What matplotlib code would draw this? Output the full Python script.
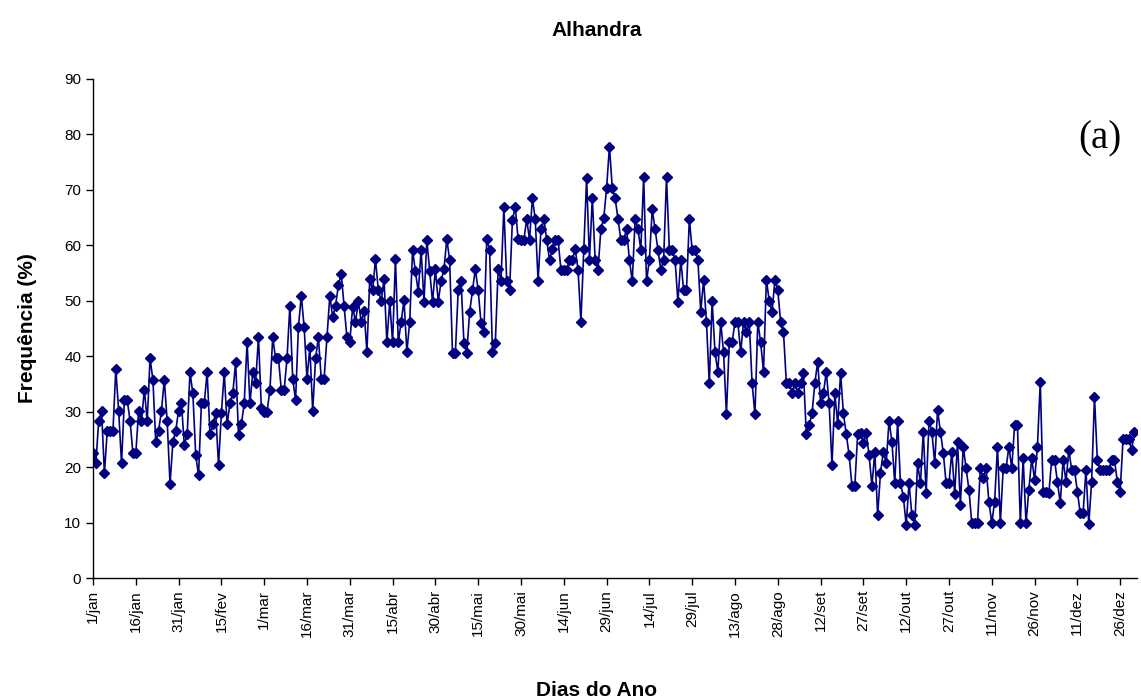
import numpy as np
import matplotlib
matplotlib.use("Agg")
import matplotlib.pyplot as plt

plt.rcParams['font.family'] = ['Liberation Sans', 'DejaVu Sans']

# tick labels (every 15 days, leap year)
tick_labels = ['1/jan', '16/jan', '31/jan', '15/fev', '1/mar', '16/mar', '31/mar',
               '15/abr', '30/abr', '15/mai', '30/mai', '14/jun', '29/jun', '14/jul',
               '29/jul', '13/ago', '28/ago', '12/set', '27/set', '12/out', '27/out',
               '11/nov', '26/nov', '11/dez', '26/dez']
tick_days = [1 + 15 * i for i in range(len(tick_labels))]

# frequency (%) per day of the year
frequencia = [
    22.6, 20.7, 28.3, 30.2, 18.9, 26.6, 26.6, 26.6, 37.7, 30.1,
    20.7, 32.1, 32.1, 28.3, 22.5, 22.5, 30.2, 28.3, 34.0, 28.3,
    39.6, 35.8, 24.5, 26.6, 30.2, 35.8, 28.3, 17.0, 24.5, 26.6,
    30.2, 31.6, 24.0, 25.9, 37.1, 33.3, 22.2, 18.5, 31.6, 31.6,
    37.1, 25.9, 27.7, 29.7, 20.4, 29.7, 37.1, 27.7, 31.5, 33.3,
    39.0, 25.8, 27.7, 31.5, 42.6, 31.5, 37.1, 35.2, 43.5, 30.7,
    30.0, 30.0, 33.9, 43.4, 39.6, 39.6, 33.9, 33.9, 39.6, 49.1,
    35.9, 32.1, 45.3, 50.9, 45.3, 35.9, 41.6, 30.1, 39.6, 43.4,
    35.9, 35.9, 43.4, 50.9, 47.1, 49.1, 52.8, 54.8, 49.1, 43.4,
    42.6, 48.9, 46.2, 49.9, 46.2, 48.2, 40.8, 53.9, 51.9, 57.5,
    51.9, 49.9, 53.9, 42.5, 49.9, 42.5, 57.5, 42.5, 46.2, 50.1,
    40.8, 46.2, 59.2, 55.3, 51.6, 59.2, 49.8, 61.0, 55.3, 49.8,
    55.7, 49.8, 53.6, 55.7, 61.1, 57.4, 40.6, 40.6, 51.9, 53.6,
    42.4, 40.6, 48.0, 51.9, 55.7, 51.9, 46.0, 44.4, 61.1, 59.2,
    40.8, 42.4, 55.7, 53.6, 66.9, 53.6, 51.9, 64.6, 66.9, 61.1,
    61.0, 61.0, 64.7, 61.0, 68.5, 64.7, 53.5, 62.9, 64.7, 61.0,
    57.4, 59.3, 61.0, 61.0, 55.6, 55.6, 55.6, 57.4, 57.4, 59.3,
    55.6, 46.2, 59.3, 72.1, 57.4, 68.5, 57.4, 55.6, 62.9, 64.9,
    70.3, 77.8, 70.3, 68.5, 64.7, 61.0, 61.0, 62.9, 57.4, 53.5,
    64.7, 62.9, 59.2, 72.3, 53.5, 57.4, 66.5, 62.9, 59.2, 55.6,
    57.4, 72.3, 59.2, 59.2, 57.4, 49.8, 57.4, 51.9, 51.9, 64.7,
    59.2, 59.2, 57.4, 48.0, 53.8, 46.2, 35.1, 50.0, 40.7, 37.2,
    46.2, 40.7, 29.5, 42.5, 42.5, 46.2, 46.2, 40.7, 46.2, 44.4,
    46.2, 35.1, 29.5, 46.2, 42.5, 37.2, 53.8, 50.0, 48.0, 53.8,
    51.9, 46.2, 44.4, 35.2, 35.2, 33.3, 35.2, 33.3, 35.2, 37.0,
    26.0, 27.6, 29.7, 35.2, 39.0, 31.5, 33.3, 37.2, 31.5, 20.4,
    33.3, 27.7, 37.0, 29.7, 26.0, 22.2, 16.6, 16.6, 26.0, 26.1,
    24.3, 26.1, 22.2, 16.6, 22.8, 11.4, 19.0, 22.8, 20.7, 28.4,
    24.6, 17.1, 28.4, 17.1, 14.7, 9.6, 17.1, 11.4, 9.6, 20.7,
    17.1, 26.4, 15.4, 28.4, 26.4, 20.7, 30.3, 26.4, 22.6, 17.1,
    17.1, 22.8, 15.2, 24.6, 13.2, 23.7, 19.8, 15.9, 9.9, 9.9,
    9.9, 19.8, 18.0, 19.8, 13.8, 9.9, 13.8, 23.7, 9.9, 19.8,
    19.8, 23.7, 19.8, 27.6, 27.6, 9.9, 21.6, 9.9, 15.9, 21.6,
    17.7, 23.7, 35.4, 15.6, 15.6, 15.3, 21.3, 21.3, 17.4, 13.5,
    21.3, 17.4, 23.1, 19.5, 19.5, 15.6, 11.7, 11.7, 19.5, 9.7,
    17.4, 32.7, 21.3, 19.5, 19.5, 19.5, 19.5, 21.3, 21.3, 17.4,
    15.6, 25.0, 25.0, 25.0, 23.1, 26.4,
]
dias = np.arange(1, len(frequencia) + 1)

fig = plt.figure(figsize=(11.41, 6.99), dpi=100)
ax = fig.add_axes([0.0815, 0.173, 0.915, 0.714])

ax.plot(dias, frequencia, color='#000080', linewidth=1.2,
        marker='D', markersize=5, markerfacecolor='#000080', markeredgecolor='#000080')

ax.set_xlim(1, 366.9)
ax.set_ylim(0, 90)
ax.set_yticks(range(0, 91, 10))
ax.set_xticks(tick_days)
ax.set_xticklabels(tick_labels, rotation=90, fontsize=11)
ax.tick_params(axis='y', labelsize=11, direction='out', length=5, width=1)
ax.tick_params(axis='x', direction='out', length=5, width=1)

for side in ['top', 'right']:
    ax.spines[side].set_visible(False)
for side in ['left', 'bottom']:
    ax.spines[side].set_color('black')
    ax.spines[side].set_linewidth(1)

fig.text(0.523, 0.957, 'Alhandra', ha='center', va='center', fontsize=15, fontweight='bold')
fig.text(0.523, 0.012, 'Dias do Ano', ha='center', va='center', fontsize=15, fontweight='bold')
fig.text(0.024, 0.53, 'Frequência (%)', ha='center', va='center', rotation=90,
         fontsize=15, fontweight='bold')
ax.text(0.985, 0.88, '(a)', transform=ax.transAxes, ha='right', va='center',
        fontsize=28, family=['Liberation Serif', 'DejaVu Serif'])

fig.savefig('out.png', dpi=100)
